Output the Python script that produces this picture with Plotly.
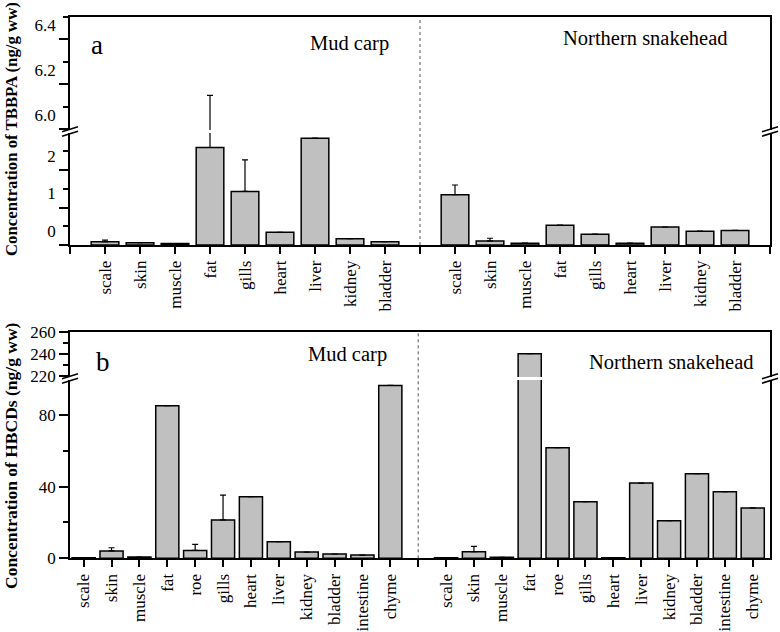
import plotly.graph_objects as go

W, H = 780, 632
ML, MR, MT, MB = 2, 2, 2, 2

# ---------------- data ----------------
tbbpa_tissues = ["scale", "skin", "muscle", "fat", "gills", "heart", "liver", "kidney", "bladder"]
tbbpa_mud = [0.09, 0.06, 0.04, 2.60, 1.43, 0.34, 2.85, 0.17, 0.09]
tbbpa_mud_err = [0.04, None, None, 3.55, 0.84, None, None, None, None]
tbbpa_snake = [1.34, 0.11, 0.05, 0.53, 0.29, 0.05, 0.48, 0.37, 0.39]
tbbpa_snake_err = [0.26, 0.07, None, None, None, None, None, None, None]

hbcd_tissues = ["scale", "skin", "muscle", "fat", "roe", "gills", "heart", "liver",
                "kidney", "bladder", "intestine", "chyme"]
hbcd_mud = [0.3, 4.1, 0.7, 85.2, 4.4, 21.4, 34.4, 9.3, 3.5, 2.4, 1.8, 96.5]
hbcd_mud_err = [None, 1.8, None, None, 3.4, 13.8, None, None, None, None, None, None]
hbcd_snake = [0.35, 3.7, 0.55, 240.4, 61.7, 31.6, 0.35, 42.0, 21.0, 47.2, 37.2, 28.1]
hbcd_snake_err = [None, 3.0, None, None, None, None, None, None, None, None, None, None]

ya_lo_ticks = [0, 1, 2]
ya_up_ticks, ya_up_text = [6.0, 6.2, 6.4], ["6.0", "6.2", "6.4"]
yb_lo_ticks = [0, 40, 80]
yb_up_ticks = [220, 240, 260]

FONT = "Liberation Serif"
BAR = "#c0c0c0"


def py(px):
    return 1 - (px - MT) / (H - MT - MB)


def pxx(px):
    return (px - ML) / (W - ML - MR)


# ---------------- positions ----------------
na, nb = len(tbbpa_tissues), len(hbcd_tissues)
xa = list(range(1, na + 1)) + list(range(na + 2, 2 * na + 2))
xb = list(range(1, nb + 1)) + list(range(nb + 2, 2 * nb + 2))
ya = tbbpa_mud + tbbpa_snake
ea = tbbpa_mud_err + tbbpa_snake_err
yb = hbcd_mud + hbcd_snake
eb = hbcd_mud_err + hbcd_snake_err

fig = go.Figure()


def add_bars(x, y, e, xr, yr, width):
    fig.add_trace(go.Bar(
        x=x, y=y, xaxis=xr, yaxis=yr, width=width,
        marker=dict(color=BAR, line=dict(color="black", width=1.5)),
        error_y=dict(type="data", symmetric=False, array=e,
                     arrayminus=[0] * len(e), color="black", thickness=1.2, width=3),
        showlegend=False, hoverinfo="x+y",
    ))


add_bars(xa, ya, ea, "x", "y", 0.79)
add_bars(xa, ya, ea, "x2", "y2", 0.79)
add_bars(xb, yb, eb, "x3", "y3", 0.83)
add_bars(xb, yb, eb, "x4", "y4", 0.83)

XD = [pxx(70), pxx(770)]
LW = 1.6

tva = list(range(0, 2 * na + 3))
tta = [""] + tbbpa_tissues + [""] + tbbpa_tissues + [""]
tvb = list(range(1, 2 * nb + 2))
ttb = hbcd_tissues + [""] + hbcd_tissues

common_x = dict(showline=True, linecolor="black", linewidth=LW, showgrid=False,
                zeroline=False, automargin=False,
                tickfont=dict(family=FONT, size=17, color="black"))
common_y = dict(showline=True, linecolor="black", linewidth=LW, mirror=True, showgrid=False,
                zeroline=False, automargin=False, ticks="outside", ticklen=9, tickwidth=1.5,
                tickcolor="black", tickfont=dict(family=FONT, size=17, color="black"))


def minor(d, t0):
    return dict(tick0=t0, dtick=d, ticks="outside", ticklen=5,
                tickwidth=1.5, tickcolor="black", showgrid=False)


fig.update_layout(
    width=W, height=H, margin=dict(l=ML, r=MR, t=MT, b=MB),
    paper_bgcolor="white", plot_bgcolor="white",
    font=dict(family=FONT, color="black"),
    xaxis=dict(**common_x, domain=XD, range=[0, 2 * na + 2], anchor="y",
               ticks="outside", ticklen=7, tickwidth=1.5, tickcolor="black",
               tickmode="array", tickvals=tva, ticktext=tta, tickangle=-90),
    xaxis2=dict(**common_x, domain=XD, range=[0, 2 * na + 2], anchor="y2", side="top",
                showticklabels=False),
    yaxis=dict(**common_y, domain=[py(245), py(133)], range=[0, 2.987], anchor="x",
               tickmode="array", tickvals=ya_lo_ticks, minor=minor(0.5, 0),
               ticklabelshift=-14),
    yaxis2=dict(**common_y, domain=[py(130), py(17)], range=[5.996, 6.5], anchor="x2",
                tickmode="array", tickvals=ya_up_ticks, ticktext=ya_up_text,
                minor=minor(0.1, 6.0), ticklabelshift=-14),
    xaxis3=dict(**common_x, domain=XD, range=[0.51, 2 * nb + 1.62], anchor="y3",
                ticks="outside", ticklen=7, tickwidth=1.5, tickcolor="black",
                tickmode="array", tickvals=tvb, ticktext=ttb, tickangle=-90),
    xaxis4=dict(**common_x, domain=XD, range=[0.51, 2 * nb + 1.62], anchor="y4", side="top",
                showticklabels=False),
    yaxis3=dict(**common_y, domain=[py(558.3), py(380)], range=[0, 99.5], anchor="x3",
                tickmode="array", tickvals=yb_lo_ticks, minor=minor(20, 0)),
    yaxis4=dict(**common_y, domain=[py(377), py(332.3)], range=[219.1, 260], anchor="x4",
                tickmode="array", tickvals=yb_up_ticks, minor=minor(10, 0)),
)

# dashed dividers between species
fig.add_shape(type="line", xref="x", yref="paper", x0=na + 1, x1=na + 1,
              y0=py(245), y1=py(17), line=dict(color="#555555", width=1, dash="3px,3px"))
fig.add_shape(type="line", xref="x3", yref="paper", x0=nb + 1, x1=nb + 1,
              y0=py(558.3), y1=py(332.3), line=dict(color="#555555", width=1, dash="3px,3px"))

# axis-break marks
for bx in (70, 770):
    for byc in (131.5, 378.5):
        for off in (-2.2, 2.2):
            fig.add_shape(type="line", xref="paper", yref="paper",
                          x0=pxx(bx - 8), x1=pxx(bx + 8),
                          y0=py(byc + off + 2.5), y1=py(byc + off - 2.5),
                          line=dict(color="black", width=1.6))


def txt(x, y, s, size, **kw):
    fig.add_annotation(x=pxx(x), y=py(y), xref="paper", yref="paper", text=s,
                       xanchor="center", yanchor="middle", showarrow=False,
                       font=dict(family=FONT, size=size, color="black"), **kw)


txt(97, 45, "a", 27)
txt(349, 43, "Mud carp", 20.5)
txt(645, 38, "Northern snakehead", 20.5)
txt(103, 362, "b", 27)
txt(347, 354, "Mud carp", 20.5)
txt(671, 362, "Northern snakehead", 20.5)
txt(11, 129, "<b>Concentration of TBBPA (ng/g ww)</b>", 16.8, textangle=-90)
txt(11, 456, "<b>Concentration of HBCDs (ng/g ww)</b>", 17.5, textangle=-90)

fig.write_html("out.html", config={"displayModeBar": False},
               post_script="document.body.style.margin='0';")
